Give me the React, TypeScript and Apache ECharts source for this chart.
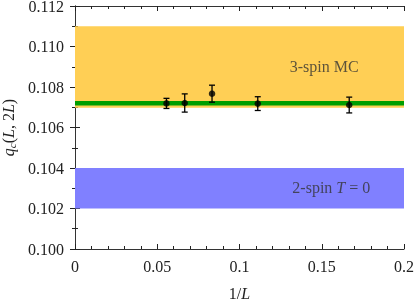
import React, { useEffect, useRef } from "react";
import * as echarts from "echarts";

const invL = [0.0556, 0.0667, 0.0833, 0.1111, 0.1667];
const qc = [0.10719, 0.10721, 0.10767, 0.10718, 0.10711];
const qcErr = [0.00025, 0.00045, 0.00042, 0.00034, 0.00039];
const band3spin = [0.10697, 0.111];
const line3spin = [0.10709, 0.10731];
const band2spin = [0.102, 0.104];
const labels = [
  { text: "3-spin MC", x: 0.1515, y: 0.10902 },
  { text: "2-spin {i|T} = 0", x: 0.1558, y: 0.10303 },
];

const FONT = "Liberation Serif";

export default function App() {
  const ref = useRef<HTMLDivElement>(null);
  useEffect(() => {
    const chart = echarts.init(ref.current!, undefined, { renderer: "svg" });
    const axisLine = { show: true, lineStyle: { color: "#333", width: 1 } };
    const axisTick = { show: true, inside: true, length: 5, lineStyle: { color: "#222" } };
    const minorTick = { show: true, length: 3, lineStyle: { color: "#222" } };
    const xCommon = { type: "value", min: 0, max: 0.2, interval: 0.05, splitLine: { show: false } };
    const yCommon = { type: "value", min: 0.1, max: 0.112, interval: 0.002, splitLine: { show: false } };
    chart.setOption({
      animation: false,
      grid: { left: 75, right: 12, top: 6, bottom: 52, containLabel: false, outerBoundsMode: "none" },
      xAxis: [
        {
          ...xCommon,
          position: "bottom",
          axisLine,
          axisTick,
          minorTick: { ...minorTick, splitNumber: 5 },
          axisLabel: {
            color: "#222",
            fontFamily: FONT,
            fontSize: 16,
            margin: 9,
            formatter: (v: number) => String(Math.round(v * 100) / 100),
          },
          name: "1/{i|L}",
          nameLocation: "middle",
          nameGap: 36,
          nameTextStyle: {
            color: "#222",
            fontFamily: FONT,
            fontSize: 16,
            rich: { i: { fontStyle: "italic", fontFamily: FONT, fontSize: 16, color: "#222" } },
          },
        },
        {
          ...xCommon,
          position: "top",
          axisLine,
          axisTick,
          minorTick: { ...minorTick, splitNumber: 5 },
          axisLabel: { show: false },
        },
      ],
      yAxis: [
        {
          ...yCommon,
          position: "left",
          axisLine,
          axisTick,
          minorTick: { ...minorTick, splitNumber: 2 },
          axisLabel: {
            color: "#222",
            fontFamily: FONT,
            fontSize: 16,
            margin: 11,
            formatter: (v: number) => v.toFixed(3),
          },
          name: "{i|q}{s|c}({i|L}, 2{i|L})",
          nameLocation: "middle",
          nameGap: 56,
          nameRotate: 90,
          nameTextStyle: {
            color: "#222",
            fontFamily: FONT,
            fontSize: 16,
            rich: {
              i: { fontStyle: "italic", fontFamily: FONT, fontSize: 16, color: "#222" },
              s: { fontStyle: "italic", fontFamily: FONT, fontSize: 11, color: "#222", padding: [6, 0, 0, 0] },
            },
          },
        },
        {
          ...yCommon,
          position: "right",
          axisLine,
          axisTick,
          minorTick: { ...minorTick, splitNumber: 2 },
          axisLabel: { show: false },
        },
      ],
      series: [
        {
          type: "line",
          data: [],
          silent: true,
          markArea: {
            silent: true,
            data: [
              [
                { yAxis: band3spin[0], itemStyle: { color: "#FFCF55" } },
                { yAxis: band3spin[1] },
              ],
              [
                { yAxis: line3spin[0], itemStyle: { color: "#009E00" } },
                { yAxis: line3spin[1] },
              ],
              [
                { yAxis: band2spin[0], itemStyle: { color: "#8080FF" } },
                { yAxis: band2spin[1] },
              ],
            ],
          },
        },
        {
          type: "custom",
          data: invL.map((x, i) => [x, qc[i] - qcErr[i], qc[i] + qcErr[i]]),
          renderItem: (params: any, api: any) => {
            const lo = api.coord([api.value(0), api.value(1)]);
            const hi = api.coord([api.value(0), api.value(2)]);
            const w = 3;
            const style = { stroke: "#000", lineWidth: 1.3 };
            return {
              type: "group",
              children: [
                { type: "line", shape: { x1: lo[0], y1: lo[1], x2: hi[0], y2: hi[1] }, style },
                { type: "line", shape: { x1: lo[0] - w, y1: lo[1], x2: lo[0] + w, y2: lo[1] }, style },
                { type: "line", shape: { x1: hi[0] - w, y1: hi[1], x2: hi[0] + w, y2: hi[1] }, style },
              ],
            };
          },
          z: 3,
        },
        {
          type: "scatter",
          data: invL.map((x, i) => [x, qc[i]]),
          symbol: "circle",
          symbolSize: 6.5,
          itemStyle: { color: "#000" },
          z: 4,
        },
        {
          type: "scatter",
          data: labels.map((l) => [l.x, l.y, l.text]),
          symbolSize: 0,
          silent: true,
          label: {
            show: true,
            position: "inside",
            formatter: (p: any) => p.value[2],
            color: "#333",
            fontFamily: FONT,
            fontSize: 16,
            rich: { i: { fontStyle: "italic", fontFamily: FONT, fontSize: 16, color: "#333" } },
          },
          z: 5,
        },
      ],
    });
    return () => chart.dispose();
  }, []);
  return <div ref={ref} style={{ position: "fixed", left: 0, top: 0, width: 416, height: 301 }} />;
}
